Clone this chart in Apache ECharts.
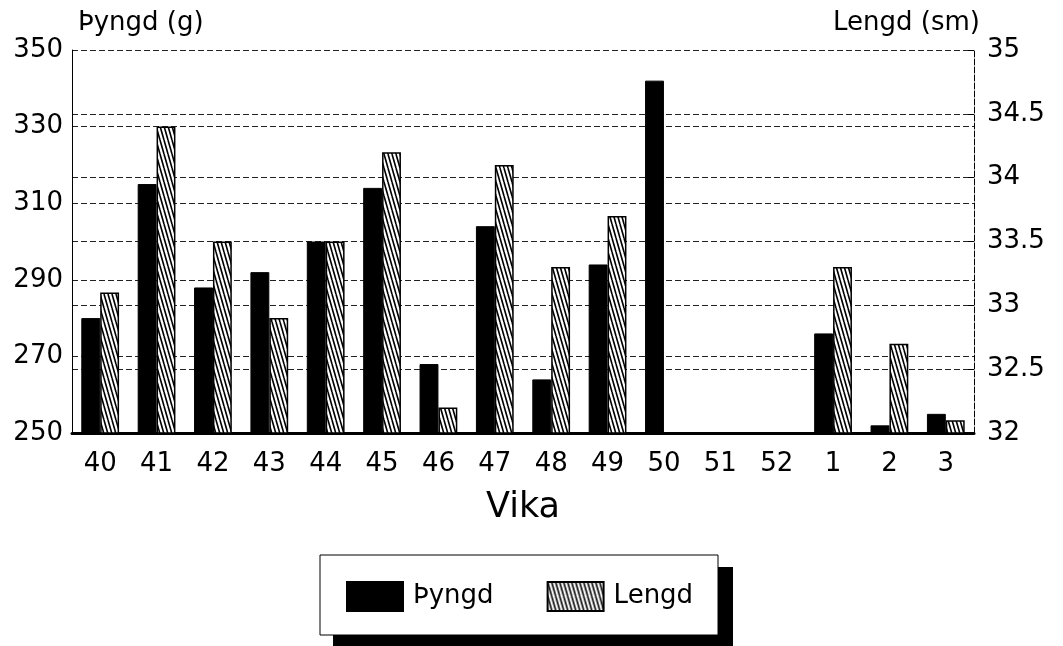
<!DOCTYPE html>
<html>
<head>
<meta charset="utf-8">
<script src="https://cdn.jsdelivr.net/npm/echarts@6/dist/echarts.min.js"></script>
<style>
  html, body { margin: 0; padding: 0; background: #fff; }
  #chart { width: 1063px; height: 646px; }
</style>
</head>
<body>
<div id="chart"></div>
<script>
// vikur (weeks)
const weeks = ['40', '41', '42', '43', '44', '45', '46', '47', '48', '49', '50', '51', '52', '1', '2', '3']
// þyngd í grömmum
const weight = [280, 315, 288, 292, 300, 314, 268, 304, 264, 294, 342, null, null, 276, 252, 255]
// lengd í sm
const length = [33.1, 34.4, 33.5, 32.9, 33.5, 34.2, 32.2, 34.1, 33.3, 33.7, null, null, null, 33.3, 32.7, 32.1]

const FONT = 'DejaVu Sans'

// skástrikað mynstur fyrir lengd
const makeHatch = () => {
  const w = 4
  const h = 14
  const c = document.createElement('canvas')
  c.width = w
  c.height = h
  const ctx = c.getContext('2d')
  ctx.fillStyle = '#fff'
  ctx.fillRect(0, 0, w, h)
  ctx.strokeStyle = '#000'
  ctx.lineWidth = 1.6
  for (const dx of [-w, 0, w]) {
    ctx.beginPath()
    ctx.moveTo(dx, 0)
    ctx.lineTo(dx + w, h)
    ctx.stroke()
  }
  return c
}

const chart = echarts.init(document.getElementById('chart'))

const gridLine = {show: true, lineStyle: {color: '#222', type: [6, 3], width: 1}}

const option = {
  backgroundColor: '#fff',
  animation: false,
  textStyle: {fontFamily: FONT, color: '#000'},
  grid: {left: 72, right: 89, top: 50, bottom: 213},
  // legend box with a heavy drop shadow
  graphic: [
    {type: 'rect', z: 0, shape: {x: 333, y: 567, width: 400, height: 80}, style: {fill: '#000'}},
    {type: 'rect', z: 1, shape: {x: 320, y: 555, width: 398, height: 80}, style: {fill: '#fff', stroke: '#000', lineWidth: 1}},
  ],
  legend: {
    left: 346,
    top: 581,
    padding: 0,
    icon: 'rect',
    itemWidth: 56,
    itemHeight: 29,
    itemGap: 53,
    z: 10,
    textStyle: {fontFamily: FONT, fontSize: 26, color: '#000', padding: [0, 0, 0, 5]},
    data: ['Þyngd', 'Lengd'],
  },
  xAxis: {
    type: 'category',
    data: weeks,
    name: 'Vika',
    nameLocation: 'middle',
    nameGap: 57,
    nameTextStyle: {fontFamily: FONT, fontSize: 35, color: '#000'},
    axisLine: {lineStyle: {color: '#000', width: 3}},
    axisTick: {show: false},
    axisLabel: {fontFamily: FONT, fontSize: 26, color: '#000', margin: 18},
  },
  yAxis: [
    {
      type: 'value',
      min: 250,
      max: 350,
      interval: 20,
      name: 'Þyngd (g)',
      nameLocation: 'end',
      nameGap: 14,
      nameTextStyle: {fontFamily: FONT, fontSize: 26, color: '#000', align: 'left', verticalAlign: 'bottom', padding: [0, 0, 0, 6]},
      axisLine: {show: true, lineStyle: {color: '#000', width: 1}},
      axisTick: {show: false},
      axisLabel: {fontFamily: FONT, fontSize: 26, color: '#000', margin: 9},
      splitLine: gridLine,
    },
    {
      type: 'value',
      min: 32,
      max: 35,
      interval: 0.5,
      name: 'Lengd (sm)',
      nameLocation: 'end',
      nameGap: 14,
      nameTextStyle: {fontFamily: FONT, fontSize: 26, color: '#000', align: 'right', verticalAlign: 'bottom', padding: [0, -6, 0, 0]},
      axisLine: {show: true, lineStyle: {color: '#000', width: 1, type: [6, 2]}},
      axisTick: {show: true, inside: true, length: 6, lineStyle: {color: '#000'}},
      axisLabel: {fontFamily: FONT, fontSize: 26, color: '#000', margin: 13},
      splitLine: gridLine,
    },
  ],
  series: [
    {
      name: 'Þyngd',
      type: 'bar',
      yAxisIndex: 0,
      data: weight,
      barGap: '0%',
      barCategoryGap: '33%',
      itemStyle: {color: '#000', borderColor: '#000', borderWidth: 1},
    },
    {
      name: 'Lengd',
      type: 'bar',
      yAxisIndex: 1,
      data: length,
      itemStyle: {
        color: {image: makeHatch(), repeat: 'repeat'},
        borderColor: '#000',
        borderWidth: 1.5,
      },
    },
  ],
}

chart.setOption(option)
</script>
</body>
</html>
